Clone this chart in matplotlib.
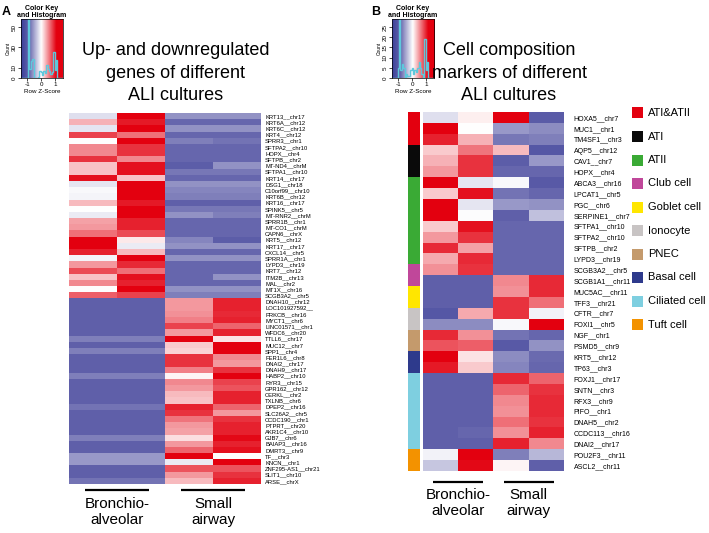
import numpy as np
import matplotlib
matplotlib.use("Agg")
import matplotlib.pyplot as plt
from matplotlib.colors import LinearSegmentedColormap, Normalize
from matplotlib.patches import Rectangle

plt.rcParams['font.family'] = ['Liberation Sans', 'DejaVu Sans']

# ---------------- panel A: up/down regulated genes ----------------
left_genes = [
    "KRT13__chr17", "KRT6A__chr12", "KRT6C__chr12", "KRT4__chr12", "SPRR3__chr1",
    "SFTPA2__chr10", "HOPX__chr4", "SFTPB__chr2", "MT-ND4__chrM", "SFTPA1__chr10",
    "KRT14__chr17", "DSG1__chr18", "C10orf99__chr10", "KRT6B__chr12", "KRT16__chr17",
    "SPINK5__chr5", "MT-RNR2__chrM", "SPRR1B__chr1", "MT-CO1__chrM", "CAPN6__chrX",
    "KRT5__chr12", "KRT17__chr17", "CXCL14__chr5", "SPRR1A__chr1", "LYPD3__chr19",
    "KRT7__chr12", "ITM2B__chr13", "MAL__chr2", "MT1X__chr16", "SCGB3A2__chr5",
    "DNAH10__chr12", "LOC101927592__", "PRKCB__chr16", "MYCT1__chr6", "LINC01571__chr1",
    "WFDC6__chr20", "TTLL6__chr17", "MUC12__chr7", "SPP1__chr4", "FER1L6__chr8",
    "DNAI2__chr17", "DNAH9__chr17", "HABP2__chr10", "RYR3__chr15", "GPR162__chr12",
    "CERKL__chr2", "TXLNB__chr6", "DPEP2__chr16", "SLC26A2__chr5", "CCDC190__chr1",
    "PTPRT__chr20", "AKR1C4__chr10", "GJB7__chr6", "BAIAP3__chr16", "DMRT3__chr9",
    "TF__chr3", "KNCN__chr1", "ZNF295-AS1__chr21", "SLIT1__chr10", "ARSE__chrX",
]

# row z-scores, one list per culture replicate
left_ba1 = [-0.18, 0.32, -0.14, 0.79, 0.0, 0.5, 0.5, 0.86, 0.25, 0.25,
            1.01, -0.14, -0.04, -0.06, 0.29, 0.0, -0.11, 0.4, 0.43, 0.61,
            1.12, 1.12, 0.94, -0.06, 0.43, 0.76, 0.25, 0.5, 0.01, 0.68,
            -0.9, -0.9, -0.9, -0.9, -0.9, -0.9, -0.72, -0.9, -0.72, -0.9,
            -0.9, -0.9, -0.72, -0.9, -0.9, -0.9, -0.9, -0.79, -0.9, -0.9,
            -0.9, -0.9, -0.72, -0.9, -0.9, -0.58, -0.58, -0.9, -0.9, -0.79]
left_ba2 = [1.08, 0.97, 1.08, 0.61, 1.08, 0.86, 0.86, 0.5, 1.01, 1.01,
            0.25, 1.12, 1.12, 1.12, 0.97, 1.12, 1.08, 0.94, 0.94, 0.76,
            0.09, -0.11, 0.29, 1.08, 0.9, 0.61, 1.01, 0.94, 1.08, 0.79,
            -0.9, -0.9, -0.9, -0.9, -0.9, -0.9, -0.72, -0.9, -0.72, -0.9,
            -0.9, -0.9, -0.72, -0.9, -0.9, -0.9, -0.9, -0.79, -0.9, -0.9,
            -0.9, -0.9, -0.72, -0.9, -0.9, -0.58, -0.58, -0.9, -0.9, -0.79]
left_sa1 = [-0.61, -0.86, -0.61, -0.86, -0.72, -0.86, -0.86, -0.86, -0.94, -0.76,
            -0.86, -0.61, -0.68, -0.72, -0.9, -0.76, -0.61, -0.86, -0.86, -0.86,
            -0.68, -0.61, -0.86, -0.61, -0.86, -0.86, -0.86, -0.86, -0.61, -0.72,
            0.43, 0.43, 0.47, 0.54, 0.79, 0.43, 1.08, 0.22, 0.18, 0.86,
            0.86, 0.54, 0.04, 0.5, 0.43, 0.29, 0.25, 0.94, 0.86, 0.58,
            0.43, 0.4, 0.14, 0.43, 0.65, 1.08, -0.11, 0.72, 0.43, 0.29]
left_sa2 = [-0.61, -0.86, -0.61, -0.86, -0.79, -0.86, -0.86, -0.86, -0.61, -0.76,
            -0.86, -0.61, -0.68, -0.72, -0.9, -0.76, -0.72, -0.86, -0.86, -0.86,
            -0.94, -0.61, -0.86, -0.61, -0.86, -0.86, -0.61, -0.86, -0.61, -0.72,
            0.94, 0.94, 0.9, 0.94, 0.65, 0.94, 0.11, 1.08, 1.08, 0.5,
            0.43, 0.86, 1.08, 0.79, 0.72, 0.94, 0.94, 0.65, 0.43, 0.86,
            0.94, 0.94, 1.04, 0.94, 1.01, 0.0, 1.08, 0.72, 0.86, 0.94]

# ---------------- panel B: cell composition markers ----------------
right_genes = [
    "HOXA5__chr7", "MUC1__chr1", "TM4SF1__chr3", "AQP5__chr12", "CAV1__chr7",
    "HOPX__chr4", "ABCA3__chr16", "LPCAT1__chr5", "PGC__chr6", "SERPINE1__chr7",
    "SFTPA1__chr10", "SFTPA2__chr10", "SFTPB__chr2", "LYPD3__chr19", "SCGB3A2__chr5",
    "SCGB1A1__chr11", "MUC5AC__chr11", "TFF3__chr21", "CFTR__chr7", "FOXI1__chr5",
    "NGF__chr1", "PSMD5__chr9", "KRT5__chr12", "TP63__chr3", "FOXJ1__chr17",
    "SNTN__chr3", "RFX3__chr9", "PIFO__chr1", "DNAH5__chr2", "CCDC113__chr16",
    "DNAI2__chr17", "POU2F3__chr11", "ASCL2__chr11",
]
right_ba1 = [-0.18, 1.08, 0.94, 0.22, 0.32, 0.43, 1.08, 0.22, 1.08, 1.08,
             0.22, 0.43, 0.9, 0.36, 0.47, -0.9, -0.9, -0.9, -1.04, -0.65,
             0.9, 0.72, 1.08, 0.97, -0.9, -0.9, -0.9, -0.9, -0.9, -0.9,
             -0.9, -0.07, -0.32]
right_ba2 = [0.07, 0.0, 0.32, 0.58, 0.86, 0.86, -0.14, 1.01, -0.14, -0.01,
             1.01, 0.86, 0.4, 0.9, 0.86, -0.9, -0.9, -0.9, 0.36, -0.65,
             0.47, 0.68, 0.11, 0.22, -0.9, -0.9, -0.9, -0.9, -0.9, -0.86,
             -0.9, 1.08, 1.04]
right_sa1 = [1.08, -0.58, -0.76, 0.29, -0.94, -0.86, -0.04, -0.79, -0.58, -0.9,
             -0.86, -0.86, -0.86, -0.86, -0.86, 0.5, 0.47, 0.86, 0.86, -0.04,
             -0.79, -1.01, -0.65, -0.68, 0.9, 0.65, 0.5, 0.47, 0.61, 0.47,
             0.94, -0.72, 0.04]
right_sa2 = [-0.97, -0.65, -0.72, -1.04, -0.58, -0.86, -1.01, -0.86, -0.61, -0.36,
             -0.86, -0.86, -0.86, -0.86, -0.86, 0.9, 0.9, 0.61, -0.07, 1.12,
             -0.86, -0.61, -0.83, -0.86, 0.65, 0.86, 0.9, 0.9, 0.86, 0.94,
             0.5, -0.4, -0.9]

cell_types = ["ATI&ATII", "ATI", "ATII", "Club cell", "Goblet cell", "Ionocyte",
              "PNEC", "Basal cell", "Ciliated cell", "Tuft cell"]
cell_type_rows = [3, 3, 8, 2, 2, 2, 2, 2, 7, 2]
cell_type_colors = ["#e3000f", "#0a0a0a", "#3aaa35", "#c0479a", "#ffe600", "#c8c4c4",
                    "#c49a6c", "#2e3a8c", "#7ecfe0", "#f39200"]

group_labels = ["Bronchio-\nalveolar", "Small\nairway"]

# colour scale (blue - white - red), same as the key
VMIN, VMAX = -1.45, 1.55
def _pos(v):
    return (v - VMIN) / (VMAX - VMIN)
zcmap = LinearSegmentedColormap.from_list("zscore", [
    (0.0, "#3a409a"), (_pos(-0.9), "#6060aa"), (_pos(0.0), "#ffffff"),
    (_pos(1.08), "#e3000f"), (1.0, "#e3000f")])
norm = Normalize(VMIN, VMAX)

W, H = 709, 533
fig = plt.figure(figsize=(W / 100, H / 100), dpi=100)


def px_axes(x0, y0, x1, y1):
    # pixel box (top-left origin) -> figure axes
    return fig.add_axes([x0 / W, 1 - y1 / H, (x1 - x0) / W, (y1 - y0) / H])


def draw_heatmap(ax, cols, genes, fs, pad):
    data = np.column_stack(cols)
    ax.imshow(data, cmap=zcmap, norm=norm, aspect="auto", interpolation="nearest")
    ax.set_xticks([])
    ax.yaxis.tick_right()
    ax.set_yticks(range(len(genes)))
    ax.set_yticklabels(genes, fontsize=fs)
    ax.tick_params(axis="y", length=0, pad=pad)
    for s in ax.spines.values():
        s.set_visible(False)


def draw_groups(ax, half, line_y, text_y, fs):
    trans = ax.get_xaxis_transform()
    for centre, lab in zip([0.5, 2.5], group_labels):
        ax.plot([centre - half, centre + half], [line_y, line_y], color="black",
                lw=1.6, transform=trans, clip_on=False, solid_capstyle="butt")
        ax.text(centre, text_y, lab, transform=trans, ha="center", va="top",
                fontsize=fs, linespacing=1.15)


def draw_key(ax, values, ymax, yticks):
    grad = np.linspace(VMIN, VMAX, 300).reshape(1, -1)
    ax.imshow(grad, cmap=zcmap, norm=norm, aspect="auto",
              extent=[VMIN, VMAX, 0, ymax], interpolation="bilinear")
    counts, edges = np.histogram(values, bins=np.linspace(VMIN, VMAX, 31))
    ax.stairs(counts, edges, color="#5ec8dc", lw=1.0)
    ax.set_xlim(VMIN, VMAX)
    ax.set_ylim(0, ymax)
    ax.set_xticks([-1, 0, 1])
    ax.set_xticklabels(["-1", "0", "1"])
    ax.set_yticks(yticks)
    ax.set_yticklabels([str(t) for t in yticks], rotation=90, va="center")
    ax.tick_params(labelsize=4.5, length=2, width=0.5, pad=1)
    ax.set_xlabel("Row Z-Score", fontsize=4.5, labelpad=1)
    ax.set_ylabel("Count", fontsize=3.5, labelpad=1)
    ax.set_title("Color Key\nand Histogram", fontsize=5, fontweight="bold",
                 pad=0.5, linespacing=1.0)
    for s in ax.spines.values():
        s.set_linewidth(0.5)


# --- panel A ---
axA = px_axes(69, 113, 261, 484)
draw_heatmap(axA, [left_ba1, left_ba2, left_sa1, left_sa2], left_genes, 4.2, 3)
draw_groups(axA, 0.66, -0.016, -0.036, 11)

keyA = px_axes(21, 19, 63, 78)
draw_key(keyA, np.concatenate([left_ba1, left_ba2, left_sa1, left_sa2]), 58, [0, 10, 30, 50])

fig.text(176 / W, 1 - 73 / H, "Up- and downregulated\ngenes of different\nALI cultures",
         ha="center", va="center", fontsize=13, linespacing=1.4)
fig.text(2 / W, 1 - 12 / H, "A", fontsize=9, fontweight="bold", va="center")

# --- panel B ---
axB = px_axes(423, 112, 564, 471)
draw_heatmap(axB, [right_ba1, right_ba2, right_sa1, right_sa2], right_genes, 5, 7)
draw_groups(axB, 0.71, -0.031, -0.047, 11)

side = px_axes(408, 112, 420, 471)
row_cols = np.repeat(np.arange(len(cell_types)), cell_type_rows)
side_rgb = np.array([matplotlib.colors.to_rgb(cell_type_colors[i]) for i in row_cols])
side.imshow(side_rgb.reshape(-1, 1, 3), aspect="auto", interpolation="nearest")
side.axis("off")

keyB = px_axes(392, 19, 434, 78)
draw_key(keyB, np.concatenate([right_ba1, right_ba2, right_sa1, right_sa2]), 29,
         [0, 5, 10, 15, 20, 25])

fig.text(509 / W, 1 - 73 / H, "Cell composition\nmarkers of different\nALI cultures",
         ha="center", va="center", fontsize=13, linespacing=1.4)
fig.text(371 / W, 1 - 12 / H, "B", fontsize=9, fontweight="bold", va="center")

# legend of cell types
for i, (name, col) in enumerate(zip(cell_types, cell_type_colors)):
    yc = 113 + i * 23.5
    fig.add_artist(Rectangle((632 / W, 1 - (yc + 5.5) / H), 11 / W, 11 / H,
                             transform=fig.transFigure, facecolor=col, edgecolor="none"))
    fig.text(648 / W, 1 - yc / H, name, fontsize=8, va="center")

fig.savefig("out.png", dpi=100)
